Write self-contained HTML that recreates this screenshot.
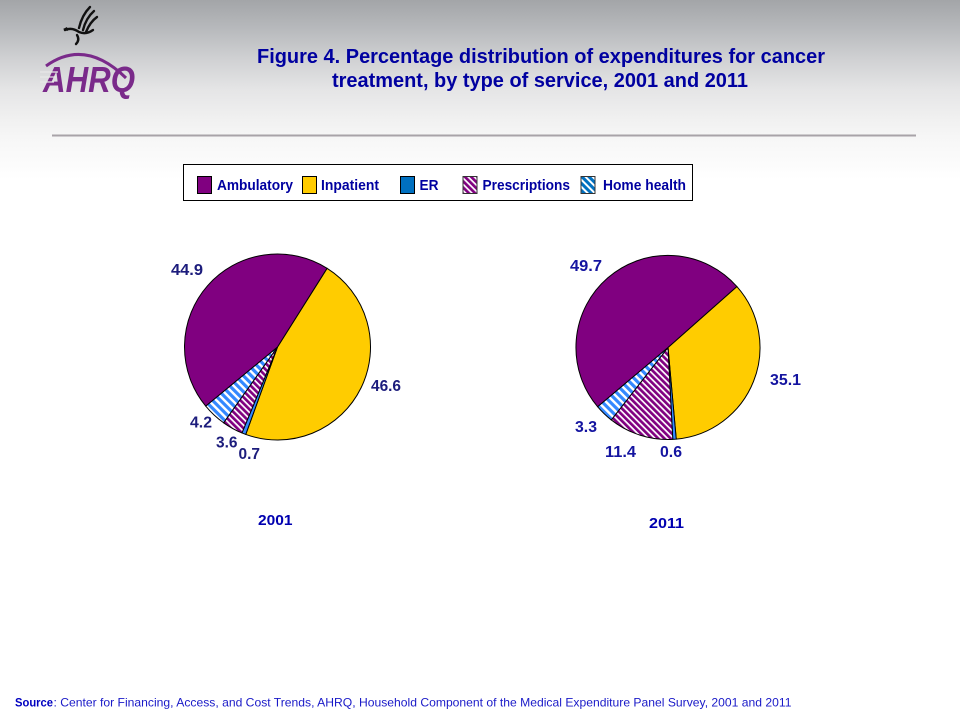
<!DOCTYPE html>
<html>
<head>
<meta charset="utf-8">
<style>
html,body{margin:0;padding:0;background:#fff;}
svg{display:block;}
text{font-family:"Liberation Sans",Arial,sans-serif;}
</style>
</head>
<body>
<svg width="960" height="720" viewBox="0 0 960 720" xmlns="http://www.w3.org/2000/svg">
<defs>
<linearGradient id="bg" x1="0" y1="0" x2="0" y2="1">
<stop offset="0" stop-color="#a3a5a8"/>
<stop offset="0.15" stop-color="#b6b8bb"/>
<stop offset="0.33" stop-color="#d0d1d3"/>
<stop offset="0.5" stop-color="#e5e5e6"/>
<stop offset="0.67" stop-color="#f1f1f1"/>
<stop offset="0.8" stop-color="#f8f8f8"/>
<stop offset="1" stop-color="#ffffff"/>
</linearGradient>
<pattern id="presc" width="4.4" height="4.4" patternUnits="userSpaceOnUse" patternTransform="rotate(45)">
<rect width="4.4" height="4.4" fill="#800080"/>
<rect y="0" width="4.4" height="1.7" fill="#ffffff"/>
</pattern>
<pattern id="home" width="5.6" height="5.6" patternUnits="userSpaceOnUse" patternTransform="rotate(45)">
<rect width="5.6" height="5.6" fill="#3388ff"/>
<rect y="0" width="5.6" height="2.4" fill="#ffffff"/>
</pattern>
<pattern id="homeL" width="5" height="5" patternUnits="userSpaceOnUse" patternTransform="rotate(45)">
<rect width="5" height="5" fill="#0070c0"/>
<rect y="0" width="5" height="2" fill="#ffffff"/>
</pattern>
</defs>

<rect x="0" y="0" width="960" height="720" fill="#ffffff"/>
<rect x="0" y="0" width="960" height="180" fill="url(#bg)"/>

<!-- logo: eagle -->
<g fill="none" stroke="#111" stroke-width="2.4" stroke-linecap="round">
<path d="M79 28 Q82 15 90 7"/>
<path d="M83 30 Q86 18 94 11"/>
<path d="M86 32 Q90 22 97 17"/>
<path d="M65 30 Q72 27 79 32 Q86 35 93 30"/>
<path d="M77 35 Q80 40 76 44"/>
</g>
<path d="M63 29 L67 27 L68 31 Z" fill="#111"/>
<!-- logo: AHRQ -->
<path d="M46 66 Q85 38 126 78" fill="none" stroke="#7a2a8a" stroke-width="3"/>
<text x="43" y="92" font-size="36" font-weight="bold" font-style="italic" fill="#7a2a8a" textLength="92" lengthAdjust="spacingAndGlyphs">AHRQ</text>
<g stroke="#e8e8e8" stroke-width="1.2">
<line x1="40" y1="72" x2="58" y2="72"/>
<line x1="40" y1="77" x2="56" y2="77"/>
<line x1="40" y1="82" x2="54" y2="82"/>
</g>

<!-- title -->
<text x="541" y="63" font-size="20" font-weight="bold" fill="#0000a0" text-anchor="middle" textLength="568" lengthAdjust="spacingAndGlyphs">Figure 4. Percentage distribution of expenditures for cancer</text>
<text x="540" y="87" font-size="20" font-weight="bold" fill="#0000a0" text-anchor="middle" textLength="416" lengthAdjust="spacingAndGlyphs">treatment, by type of service, 2001 and 2011</text>

<!-- divider -->
<rect x="52" y="134.5" width="864" height="2" fill="#a8a3a8"/>

<!-- legend -->
<rect x="183.5" y="164.5" width="509" height="36" fill="#ffffff" stroke="#000" stroke-width="1"/>
<rect x="197.5" y="176.5" width="14" height="17" fill="#800080" stroke="#000" stroke-width="1"/>
<text x="217" y="190" font-size="15" font-weight="bold" fill="#0000a0" textLength="76" lengthAdjust="spacingAndGlyphs">Ambulatory</text>
<rect x="302.5" y="176.5" width="14" height="17" fill="#ffcc00" stroke="#000" stroke-width="1"/>
<text x="321" y="190" font-size="15" font-weight="bold" fill="#0000a0" textLength="58" lengthAdjust="spacingAndGlyphs">Inpatient</text>
<rect x="400.5" y="176.5" width="14" height="17" fill="#0070c0" stroke="#000" stroke-width="1"/>
<text x="419.5" y="190" font-size="15" font-weight="bold" fill="#0000a0" textLength="19" lengthAdjust="spacingAndGlyphs">ER</text>
<rect x="463" y="176.5" width="14" height="17" fill="url(#presc)" stroke="#333" stroke-width="1"/>
<text x="482.5" y="190" font-size="15" font-weight="bold" fill="#0000a0" textLength="87.5" lengthAdjust="spacingAndGlyphs">Prescriptions</text>
<rect x="581" y="176.5" width="14" height="17" fill="url(#homeL)" stroke="#333" stroke-width="1"/>
<text x="603" y="190" font-size="15" font-weight="bold" fill="#0000a0" textLength="83" lengthAdjust="spacingAndGlyphs">Home health</text>

<!-- pie 2001 -->
<g stroke="#000" stroke-width="1" stroke-linejoin="round">
<path d="M277.5 347 L327.06 268.30 A93 93 0 0 1 245.75 434.41 Z" fill="#ffcc00"/>
<path d="M277.5 347 L245.75 434.41 A93 93 0 0 1 241.95 432.93 Z" fill="#3388ff"/>
<path d="M277.5 347 L241.95 432.93 A93 93 0 0 1 223.58 422.78 Z" fill="url(#presc)"/>
<path d="M277.5 347 L223.58 422.78 A93 93 0 0 1 205.69 406.09 Z" fill="url(#home)"/>
<path d="M277.5 347 L205.69 406.09 A93 93 0 0 1 327.06 268.30 Z" fill="#800080"/>
</g>
<g font-size="16" font-weight="bold" fill="#1c1c7c">
<text x="171" y="275" textLength="32" lengthAdjust="spacingAndGlyphs">44.9</text>
<text x="371" y="391" textLength="30" lengthAdjust="spacingAndGlyphs">46.6</text>
<text x="190" y="427.5" textLength="22" lengthAdjust="spacingAndGlyphs">4.2</text>
<text x="216" y="447.5" textLength="21.5" lengthAdjust="spacingAndGlyphs">3.6</text>
<text x="238.5" y="459" textLength="21.5" lengthAdjust="spacingAndGlyphs">0.7</text>
</g>
<text x="258" y="525" font-size="15" font-weight="bold" fill="#0000b0" textLength="34.5" lengthAdjust="spacingAndGlyphs">2001</text>

<!-- pie 2011 -->
<g stroke="#000" stroke-width="1" stroke-linejoin="round">
<path d="M668 347.5 L736.91 286.54 A92 92 0 0 1 676.24 439.13 Z" fill="#ffcc00"/>
<path d="M668 347.5 L676.24 439.13 A92 92 0 0 1 672.78 439.38 Z" fill="#3388ff"/>
<path d="M668 347.5 L672.78 439.38 A92 92 0 0 1 611.29 419.94 Z" fill="url(#presc)"/>
<path d="M668 347.5 L611.29 419.94 A92 92 0 0 1 597.58 406.70 Z" fill="url(#home)"/>
<path d="M668 347.5 L597.58 406.70 A92 92 0 0 1 736.91 286.54 Z" fill="#800080"/>
</g>
<g font-size="16" font-weight="bold" fill="#1414a0">
<text x="570" y="271" textLength="32" lengthAdjust="spacingAndGlyphs">49.7</text>
<text x="770" y="385" textLength="31" lengthAdjust="spacingAndGlyphs">35.1</text>
<text x="575" y="432" textLength="22" lengthAdjust="spacingAndGlyphs">3.3</text>
<text x="605" y="457" textLength="31" lengthAdjust="spacingAndGlyphs">11.4</text>
<text x="660" y="457" textLength="22" lengthAdjust="spacingAndGlyphs">0.6</text>
</g>
<text x="649" y="528" font-size="15" font-weight="bold" fill="#0000b0" textLength="35" lengthAdjust="spacingAndGlyphs">2011</text>

<!-- source -->
<text x="15" y="706.5" font-size="12" font-weight="bold" fill="#0000c0" textLength="38" lengthAdjust="spacingAndGlyphs">Source</text>
<text x="53.5" y="706.5" font-size="12" fill="#1a1ac8" textLength="738" lengthAdjust="spacingAndGlyphs">: Center for Financing, Access, and Cost Trends, AHRQ,  Household Component of the Medical Expenditure Panel Survey,  2001 and  2011</text>
</svg>
</body>
</html>
